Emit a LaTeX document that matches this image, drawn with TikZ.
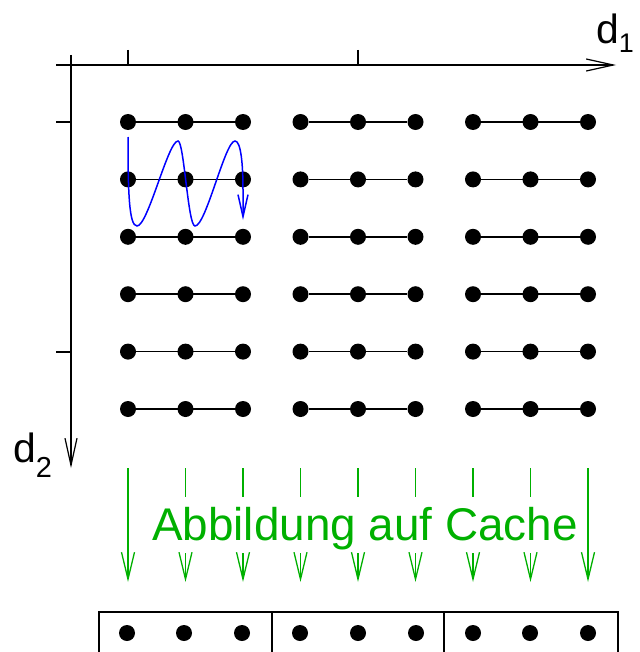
\documentclass[tikz,border=0pt]{standalone}
\usepackage{fontspec}
\setmainfont{Liberation Sans}
\usetikzlibrary{arrows.meta}
\definecolor{figgreen}{RGB}{0,176,0}
\definecolor{figblue}{RGB}{0,0,255}
\begin{document}
\begin{tikzpicture}[x=1bp,y=-1bp,
  dot/.style={circle,fill=black,inner sep=0pt,minimum size=16bp},
  rowline/.style={black,line width=1.7bp},
  axisline/.style={black,line width=1.2bp},
  axisarrow/.style={axisline,-{Straight Barb[length=27bp,width=12bp,line width=1.2bp]}},
  maparrow/.style={figgreen,line width=1.3bp,-{Straight Barb[length=27bp,width=13bp,line width=1.3bp]}},
  mapline/.style={figgreen,line width=1.3bp},
  pathcurve/.style={figblue,line width=1.5bp,-{Straight Barb[length=22bp,width=10bp,line width=1.5bp]}},
  cacheline/.style={black,line width=1.2bp},
  axislabel/.style={inner sep=0pt,anchor=base west,font=\fontsize{41}{41}\selectfont}]
\useasboundingbox (0,0) rectangle (640,652);

% axes
\coordinate (xs) at (56,65);
\coordinate (xe) at (616,65);
\coordinate (ys) at (71,55);
\coordinate (ye) at (71,468);
\draw[axisarrow] (xs) -- (xe);
\draw[axisarrow] (ys) -- (ye);
\coordinate (tx1a) at (128,50); \coordinate (tx1b) at (128,65);
\coordinate (tx2a) at (358,50); \coordinate (tx2b) at (358,65);
\coordinate (ty1a) at (56,122); \coordinate (ty1b) at (71,122);
\coordinate (ty2a) at (56,352); \coordinate (ty2b) at (71,352);
\draw[axisline] (tx1a) -- (tx1b);
\draw[axisline] (tx2a) -- (tx2b);
\draw[axisline] (ty1a) -- (ty1b);
\draw[axisline] (ty2a) -- (ty2b);

\node[axislabel] (d1) at (596,44)
  {d\raisebox{-9bp}{\fontsize{27}{27}\selectfont 1}};
\node[axislabel] (d2) at (13,462)
  {d\raisebox{-15bp}{\fontsize{29}{29}\selectfont 2}};

% grid of dots
\foreach \i in {0,...,8} {
  \foreach \j in {0,...,5} {
    \node[dot] (p\i-\j) at ({128+57.5*\i},{122+57.4*\j}) {};
  }
}
\foreach \g/\h in {0/2,3/5,6/8} {
  \foreach \j in {0,...,5} {
    \draw[rowline] (p\g-\j) -- (p\h-\j);
  }
}

% blue access path
\coordinate (bs) at (128,137);
\coordinate (be) at (243,220);
\draw[pathcurve] (bs) .. controls (128,192) and (129,226) .. (137,226)
  .. controls (148,226) and (168,141) .. (178,141)
  .. controls (184,141) and (188,226) .. (195,226)
  .. controls (206,226) and (225,141) .. (235,141)
  .. controls (241,141) and (243,165) .. (243,190) -- (be);

% green mapping arrows
\foreach \i in {0,...,8} {
  \pgfmathsetmacro{\xx}{128+57.5*\i}
  \coordinate (ga\i) at (\xx,468);
  \coordinate (gb\i) at (\xx,497);
  \coordinate (gc\i) at (\xx,553);
  \coordinate (gd\i) at (\xx,582);
}
\draw[maparrow] (ga0) -- (gd0);
\draw[maparrow] (ga8) -- (gd8);
\foreach \i in {1,...,7} {
  \draw[mapline] (ga\i) -- (gb\i);
  \draw[maparrow] (gc\i) -- (gd\i);
}
\node[text=figgreen,inner sep=0pt,anchor=base,font=\fontsize{46}{46}\selectfont] (lbl) at (365,540) {Abbildung auf Cache};

% cache
\coordinate (c1) at (99,653);
\coordinate (c2) at (99,612);
\coordinate (c3) at (618,612);
\coordinate (c4) at (618,653);
\draw[cacheline] (c1) -- (c2) -- (c3) -- (c4);
\coordinate (s1a) at (272,612); \coordinate (s1b) at (272,653);
\coordinate (s2a) at (444,612); \coordinate (s2b) at (444,653);
\draw[cacheline] (s1a) -- (s1b);
\draw[cacheline] (s2a) -- (s2b);
\foreach \x [count=\k] in {127,184,242,300,358,416,473,530,588} {
  \node[dot] (q\k) at (\x,633) {};
}
\end{tikzpicture}
\end{document}
